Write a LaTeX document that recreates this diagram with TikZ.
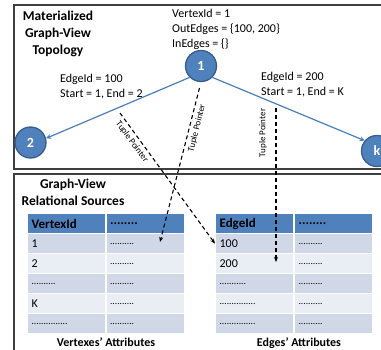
\documentclass[tikz,border=0pt]{standalone}
\usepackage{fontspec}
\setmainfont{Carlito}
\usetikzlibrary{arrows.meta}
\definecolor{nodeblue}{HTML}{4F81BD}
\definecolor{nodeedge}{HTML}{385D8A}
\definecolor{linkblue}{HTML}{4A7EBB}
\definecolor{rowdark}{HTML}{D0D8E8}
\definecolor{rowlight}{HTML}{E9EDF4}
\definecolor{framegray}{HTML}{3F3F3F}
% small filler dots used in the table cells
\newcommand\celldots[1]{{\fontsize{9.5}{9.5}\selectfont #1}}
\begin{document}
\begin{tikzpicture}[x=1pt,y=-1pt,
  vertex/.style={circle,fill=nodeblue,draw=nodeedge,line width=1.3pt,minimum size=31pt,
    inner sep=0pt,text=white,font=\fontsize{14}{14}\selectfont\bfseries},
  link/.style={draw=linkblue,line width=1.2pt,-{Stealth[length=5pt,width=5pt]}},
  ptr/.style={draw=black,line width=1.1pt,dash pattern=on 4pt off 3pt,
    -{Stealth[length=5pt,width=4pt]}},
  ptrlabel/.style={font=\fontsize{9}{9}\selectfont,inner sep=0pt},
  info/.style={align=left,anchor=base west,inner sep=0pt,font=\fontsize{12}{15}\selectfont},
  heading/.style={align=center,anchor=base,inner sep=0pt,font=\fontsize{13.5}{17}\selectfont\bfseries},
  caption/.style={anchor=base,inner sep=0pt,font=\fontsize{12}{12}\selectfont\bfseries},
  cell/.style={anchor=north west,rectangle,draw=white,line width=1.2pt,minimum height=20pt,
    text width=70pt,inner xsep=4pt,inner ysep=0pt,align=left,
    font=\fontsize{12}{12}\selectfont},
  hcell/.style={cell,fill=nodeblue,font=\fontsize{13}{13}\selectfont\bfseries},
  dcell/.style={cell,fill=rowdark},
  lcell/.style={cell,fill=rowlight},
  frame/.style={draw=framegray,line width=1.5pt}
]
\useasboundingbox (0,0) rectangle (381,349);
\clip (0,0) rectangle (381,349);

% the two panels
\draw[frame] (395,5) -- (14,5) -- (14,169) -- (395,169);
\draw[frame] (395,174) -- (14,174) -- (14,360);

% ---------- graph view topology ----------
% multi-line nodes: the base anchor sits on the last line
\node[heading] (ttop) at (58,54) {Materialized\\Graph-View\\Topology};
\node[info] (vinfo) at (172,47) {VertexId = 1\\OutEdges = \{100, 200\}\\InEdges = \{\}};
\node[info] (e100) at (60,97) {EdgeId = 100\\Start = 1, End = 2};
\node[info] (e200) at (261,95) {EdgeId = 200\\Start = 1, End = K};

\node[vertex] (n1) at (201,66) {1};
\node[vertex] (n2) at (30.5,142.5) {2};
\node[vertex] (nk) at (377,151) {k};

\draw[link] (n1.225) -- (n2.15);
\draw[link] (n1.315) -- (nk.140);

% ---------- relational sources ----------
\node[heading] (tbot) at (73,205) {Graph-View\\Relational Sources};

% vertex table
\node[hcell] (vh1) at (27,213) {VertexId};
\node[hcell] (vh2) at (105.5,213) {........};
\node[dcell] (v1a) at (27,233) {1};
\node[dcell] (v1b) at (105.5,233) {\celldots{..........}};
\node[lcell] (v2a) at (27,253) {2};
\node[lcell] (v2b) at (105.5,253) {\celldots{..........}};
\node[dcell] (v3a) at (27,273) {\celldots{..........}};
\node[dcell] (v3b) at (105.5,273) {\celldots{..........}};
\node[lcell] (v4a) at (27,293) {K};
\node[lcell] (v4b) at (105.5,293) {\celldots{..........}};
\node[dcell] (v5a) at (27,313) {\celldots{...............}};
\node[dcell] (v5b) at (105.5,313) {\celldots{..........}};
\node[caption] (vcap) at (106,346) {Vertexes’ Attributes};

% edge table
\node[hcell] (eh1) at (215,213) {EdgeId};
\node[hcell] (eh2) at (294,213) {........};
\node[dcell] (r1a) at (215,233) {100};
\node[dcell] (r1b) at (294,233) {\celldots{..........}};
\node[lcell] (r2a) at (215,253) {200};
\node[lcell] (r2b) at (294,253) {\celldots{..........}};
\node[dcell] (r3a) at (215,273) {\celldots{...........}};
\node[dcell] (r3b) at (294,273) {\celldots{..........}};
\node[lcell] (r4a) at (215,293) {\celldots{...............}};
\node[lcell] (r4b) at (294,293) {\celldots{..........}};
\node[dcell] (r5a) at (215,313) {\celldots{...............}};
\node[dcell] (r5b) at (294,313) {\celldots{..........}};
\node[caption] (ecap) at (299,346) {Edges’ Attributes};

% ---------- tuple pointers ----------
\coordinate (pa) at (120,113);
\coordinate (pb) at (160,242);
\coordinate (pc) at (276,108);
\coordinate (pd) at (276,262);
\draw[ptr] (pa) -- (r1a.west);
\draw[ptr,shorten <=6pt] (n1.south) -- (pb);
\draw[ptr] (pc) -- (pd);
\node[ptrlabel,rotate=-53.6] (la) at (132,142) {Tuple Pointer};
\node[ptrlabel,rotate=75.8] (lb) at (197,128) {Tuple Pointer};
\node[ptrlabel,rotate=90] (lc) at (263,133) {Tuple Pointer};
\end{tikzpicture}
\end{document}
